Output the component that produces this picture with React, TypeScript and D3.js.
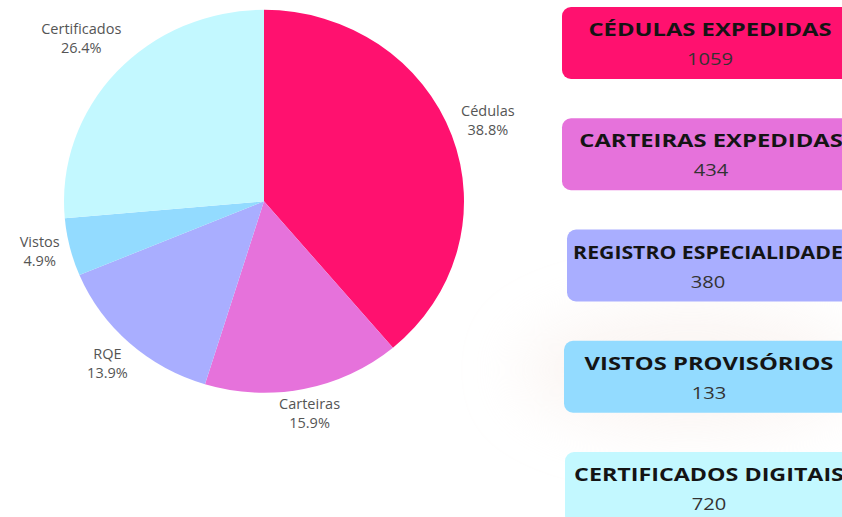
import React from "react";
import * as d3 from "d3";

const categories = ["Cédulas", "Carteiras", "RQE", "Vistos", "Certificados"];
const values = [1059, 434, 380, 133, 720];
const colors = ["#FF116F", "#E672DB", "#A9AEFF", "#93DBFF", "#C3F8FF"];
const cardTitles = [
  "CÉDULAS EXPEDIDAS",
  "CARTEIRAS EXPEDIDAS",
  "REGISTRO ESPECIALIDADE",
  "VISTOS PROVISÓRIOS",
  "CERTIFICADOS DIGITAIS",
];

const W = 842;
const H = 517;
const CX = 264;
const CY = 201.3;
const R = 200;
const YS = 0.9575;
const LABEL_FONT = 14.5;
const LABEL_PAD = 8;
const LINE_H = 19;
const cardLeft = [562, 562, 567, 564, 565];
const cardTextX = [710, 711, 708, 709, 709];
const TITLE_FONT = 18.5;
const TITLE_SX = 1.285;
const TITLE_MAXW = 270;
const NUM_SX = 1.26;

let ctx: CanvasRenderingContext2D | null = null;
function measure(t: string, font: string) {
  if (!ctx) ctx = document.createElement("canvas").getContext("2d");
  if (!ctx) return t.length * 7;
  ctx.font = font;
  return ctx.measureText(t).width;
}

export default function App() {
  const total = d3.sum(values);
  const pie = d3
    .pie<number>()
    .sort(null)
    .value((d) => d)(values);
  const arc = d3.arc<d3.PieArcDatum<number>>().innerRadius(0).outerRadius(R);
  const fmt = d3.format(".1f");
  const cardY = d3.scaleLinear().domain([0, 4]).range([7, 452]);
  const font = `${LABEL_FONT}px 'Open Sans'`;
  const titleFont = `bold ${TITLE_FONT}px 'Open Sans'`;

  return (
    <svg
      width={W}
      height={H}
      style={{ position: "absolute", left: 0, top: 0, background: "#fff" }}
      fontFamily="'Open Sans', sans-serif"
    >
      <defs>
        <filter id="blur" x="-50%" y="-50%" width="200%" height="200%">
          <feGaussianBlur stdDeviation="30" />
        </filter>
      </defs>
      <ellipse cx={690} cy={370} rx={170} ry={60} fill="#f6ebe6" opacity={0.5} filter="url(#blur)" />
      <g transform={`translate(${CX},${CY}) scale(1,${YS})`}>
        {pie.map((p, i) => (
          <path key={i} d={arc(p) || ""} fill={colors[i]} />
        ))}
      </g>
      {pie.map((p, i) => {
        const pct = fmt((values[i] / total) * 100) + "%";
        const w = Math.max(measure(categories[i], font), measure(pct, font));
        const h = LINE_H * 2 - 8;
        const a = (p.startAngle + p.endAngle) / 2;
        const s = Math.sin(a);
        const c = -Math.cos(a);
        const r = R + LABEL_PAD + Math.abs(s) * (w / 2) + Math.abs(c) * (h / 2);
        const x = CX + s * r;
        const y = CY + c * r * YS;
        return (
          <g key={i} fill="#555" fontSize={LABEL_FONT} textAnchor="middle">
            <text x={x} y={y - 7}>{categories[i]}</text>
            <text x={x} y={y - 7 + LINE_H}>{pct}</text>
          </g>
        );
      })}
      {cardTitles.map((t, i) => {
        const y = cardY(i);
        const nat = measure(t, titleFont);
        const sx = Math.min(TITLE_SX, TITLE_MAXW / nat);
        return (
          <g key={i}>
            <rect x={cardLeft[i]} y={y} width={320} height={72} rx={9} fill={colors[i]} />
            <g transform={`translate(${cardTextX[i]},${y + 29}) scale(${sx},1)`}>
              <text textAnchor="middle" fontWeight="bold" fontSize={TITLE_FONT} fill="#141414">
                {t}
              </text>
            </g>
            <g transform={`translate(${cardTextX[i]},${y + 58}) scale(${NUM_SX},1)`}>
              <text textAnchor="middle" fontSize={16} fill="#333">
                {values[i]}
              </text>
            </g>
          </g>
        );
      })}
    </svg>
  );
}
